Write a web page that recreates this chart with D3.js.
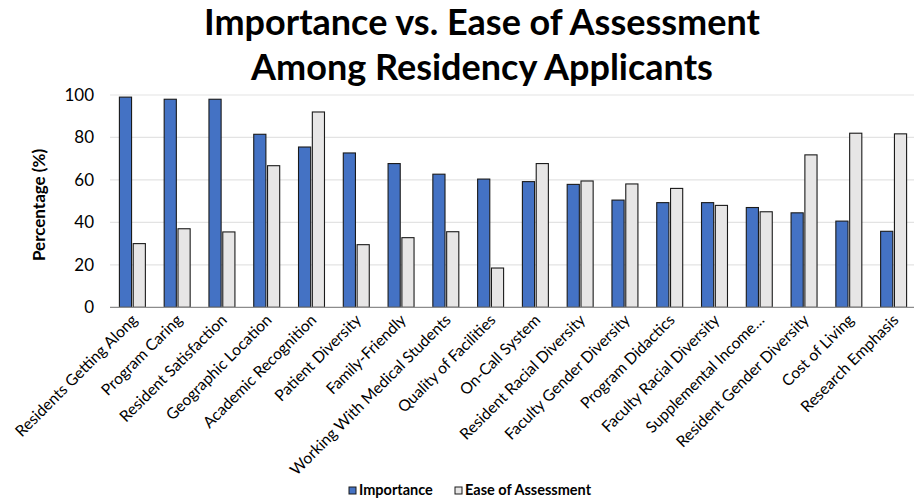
<!DOCTYPE html>
<html>
<head>
<meta charset="utf-8">
<script src="https://cdn.jsdelivr.net/npm/d3@7"></script>
<style>
  body { margin: 0; background: #fff; }
  text { font-family: Lato, "Open Sans", sans-serif; fill: #000; }
</style>
</head>
<body>
<div id="chart"></div>
<script>
var categories = ["Residents Getting Along", "Program Caring", "Resident Satisfaction",
    "Geographic Location", "Academic Recognition", "Patient Diversity", "Family-Friendly",
    "Working With Medical Students", "Quality of Facilities", "On-Call System",
    "Resident Racial Diversity", "Faculty Gender Diversity", "Program Didactics",
    "Faculty Racial Diversity", "Supplemental Income\u2026", "Resident Gender Diversity",
    "Cost of Living", "Research Emphasis"];
var importance = [99, 98, 98, 81.5, 75.5, 72.7, 67.7, 62.7, 60.4, 59.2, 57.9, 50.5, 49.3, 49.3, 47, 44.5, 40.6, 35.8];
var easeOfAssessment = [30, 37, 35.5, 66.7, 92, 29.5, 32.8, 35.6, 18.5, 67.7, 59.5, 58.1, 56, 48, 45, 71.8, 82, 81.7];
var seriesNames = ["Importance", "Ease of Assessment"];
var yTicks = [0, 20, 40, 60, 80, 100];

var width = 914, height = 503;
var colors = ["#4472C4", "#E7E6E6"];

var svg = d3.select("#chart").append("svg")
    .attr("width", width)
    .attr("height", height);

var x = d3.scaleBand().domain(categories).range([110, 916]).paddingInner(0.42).paddingOuter(0.21);
var xInner = d3.scaleBand().domain([0, 1]).range([0, x.bandwidth()]).paddingInner(0.12);
var y = d3.scaleLinear().domain([0, 100]).range([307.3, 95]);

// gridlines
svg.append("g").selectAll("line")
    .data(yTicks.slice(1))
    .enter().append("line")
    .attr("x1", 110).attr("x2", width)
    .attr("y1", function(d) { return y(d); })
    .attr("y2", function(d) { return y(d); })
    .attr("stroke", "#e3e3e3")
    .attr("stroke-width", 1.2);

// y axis labels
var yAxis = svg.append("g")
    .attr("transform", "translate(94,0)")
    .call(d3.axisLeft(y).tickValues(yTicks).tickSize(0).tickPadding(0));
yAxis.select(".domain").remove();
yAxis.selectAll("text")
    .attr("font-size", 17)
    .style("font-family", "Lato, sans-serif")
    .attr("fill", "#000");

svg.append("text")
    .attr("transform", "translate(45,205) rotate(-90)")
    .attr("text-anchor", "middle")
    .attr("font-size", 17)
    .attr("font-weight", "bold")
    .text("Percentage (%)");

// bars
var rows = categories.map(function(c, i) { return [importance[i], easeOfAssessment[i]]; });
var groups = svg.append("g").selectAll("g")
    .data(rows)
    .enter().append("g")
    .attr("transform", function(d, i) { return "translate(" + x(categories[i]) + ",0)"; });

groups.selectAll("rect")
    .data(function(d) { return d; })
    .enter().append("rect")
    .attr("x", function(d, j) { return xInner(j); })
    .attr("y", function(d) { return y(d); })
    .attr("width", xInner.bandwidth())
    .attr("height", function(d) { return y(0) - y(d); })
    .attr("fill", function(d, j) { return colors[j]; })
    .attr("stroke", "#1a1a1a")
    .attr("stroke-width", 1.1);

// baseline
svg.append("line")
    .attr("x1", 110).attr("x2", width)
    .attr("y1", y(0)).attr("y2", y(0))
    .attr("stroke", "#8c8c8c")
    .attr("stroke-width", 1.2);

// x labels
svg.append("g").selectAll("text")
    .data(categories)
    .enter().append("text")
    .attr("transform", function(d) {
        return "translate(" + (x(d) + x.bandwidth() / 2 + 6) + ",321) rotate(-45)";
    })
    .attr("text-anchor", "end")
    .attr("font-size", 15.7)
    .text(function(d) { return d; });

// title
svg.append("text")
    .attr("x", 482).attr("y", 35)
    .attr("text-anchor", "middle")
    .attr("font-size", 36)
    .attr("font-weight", "bold")
    .text("Importance vs. Ease of Assessment");
svg.append("text")
    .attr("x", 482).attr("y", 80)
    .attr("text-anchor", "middle")
    .attr("font-size", 36)
    .attr("font-weight", "bold")
    .text("Among Residency Applicants");

// legend
var legendX = [349, 455];
var legend = svg.append("g").selectAll("g")
    .data(seriesNames)
    .enter().append("g")
    .attr("transform", function(d, i) { return "translate(" + legendX[i] + ",487)"; });
legend.append("rect")
    .attr("width", 7).attr("height", 7)
    .attr("fill", function(d, i) { return colors[i]; })
    .attr("stroke", "#1a1a1a")
    .attr("stroke-width", 1);
legend.append("text")
    .attr("x", 10).attr("y", 8)
    .attr("font-size", 14.5)
    .attr("font-weight", "bold")
    .text(function(d) { return d; });
</script>
</body>
</html>
